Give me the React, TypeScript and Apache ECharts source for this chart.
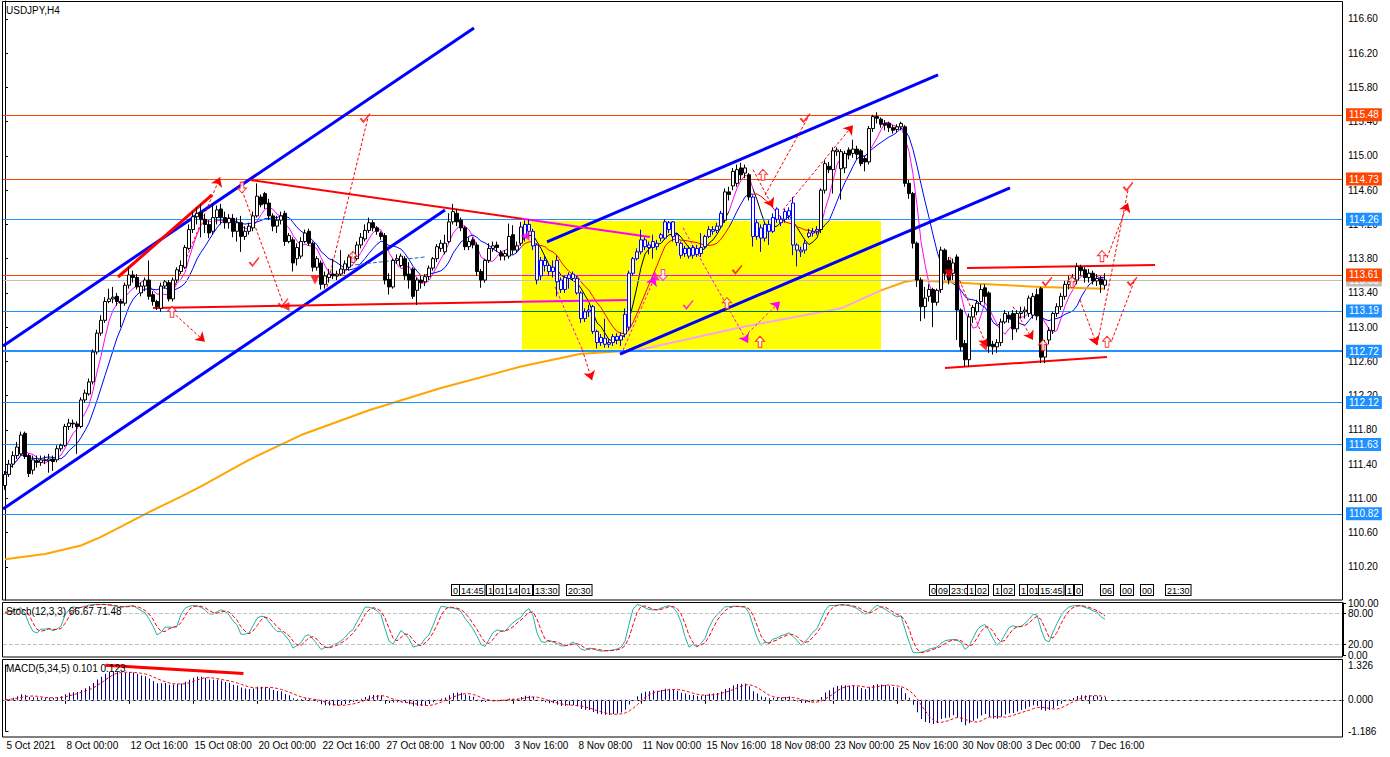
import React, { useEffect, useRef } from "react";
import * as echarts from "echarts";

// ---------- DATA ----------
// H4 candles [open, high, low, close]
const barsOct: number[][] = [
  [111.15,111.32,111.10,111.28],[111.28,111.45,111.25,111.40],[111.40,111.55,111.36,111.50],[111.50,111.66,111.46,111.60],
  [111.52,111.78,111.50,111.74],[111.76,111.78,111.46,111.49],[111.50,111.52,111.25,111.29],[111.33,111.50,111.28,111.45],
  [111.44,111.50,111.36,111.42],[111.42,111.50,111.38,111.45],[111.45,111.50,111.40,111.44],[111.44,111.52,111.30,111.46],
  [111.46,111.50,111.32,111.43],[111.45,111.62,111.42,111.58],[111.58,111.64,111.55,111.62],[111.62,111.87,111.60,111.84],
  [111.84,111.93,111.80,111.88],[111.88,111.92,111.82,111.87],[111.87,111.90,111.52,111.84],[111.84,112.18,111.82,112.15],
  [112.15,112.27,112.12,112.23],[112.22,112.40,112.20,112.36],[112.36,112.74,112.33,112.71],[112.71,112.97,112.68,112.93],
  [112.93,113.14,112.90,113.08],[113.08,113.35,113.05,113.30],[113.30,113.45,113.28,113.33],[113.33,113.47,113.28,113.35],
  [113.36,113.40,113.25,113.30],[113.30,113.33,113.00,113.28],[113.28,113.52,113.25,113.49],[113.49,113.70,113.45,113.61],
  [113.61,113.66,113.52,113.58],[113.58,113.62,113.44,113.47],[113.40,113.52,113.36,113.48],[113.48,113.58,113.42,113.55],
  [113.55,113.78,113.32,113.36],[113.38,113.42,113.25,113.30],[113.30,113.32,113.20,113.24],[113.22,113.52,113.18,113.48],
  [113.48,113.55,113.45,113.53],[113.52,113.55,113.30,113.33],[113.33,113.58,113.30,113.55],[113.55,113.70,113.52,113.67],
  [113.65,113.78,113.62,113.72],[113.70,113.96,113.68,113.93],[113.92,114.20,113.90,114.14],[114.14,114.35,114.10,114.29],
  [114.29,114.40,114.20,114.33],[114.34,114.44,114.05,114.26],[114.26,114.32,114.10,114.20],[114.20,114.25,114.04,114.10],
  [114.12,114.45,114.08,114.28],[114.28,114.42,114.20,114.37],[114.38,114.44,114.20,114.28],[114.28,114.35,114.15,114.22],
  [114.22,114.32,114.15,114.27],[114.27,114.32,114.05,114.12],[114.12,114.28,114.00,114.22],[114.22,114.30,113.88,114.06],
  [114.06,114.18,114.02,114.12],[114.12,114.22,114.08,114.18],[114.16,114.35,114.12,114.30],[114.30,114.68,114.28,114.53],
  [114.52,114.55,114.40,114.43],[114.56,114.58,114.38,114.44],[114.45,114.50,114.25,114.30],[114.30,114.33,114.12,114.18],
  [114.18,114.30,114.10,114.25],[114.25,114.35,114.20,114.30],[114.33,114.36,113.95,114.00],[114.00,114.10,113.98,114.07],
  [114.02,114.05,113.65,113.75],[113.80,113.98,113.72,113.93],[113.83,114.05,113.80,114.00],[114.00,114.14,113.98,114.10],
  [114.12,114.15,113.95,113.98],[113.98,114.00,113.65,113.70],[113.70,113.83,113.66,113.80],[113.75,113.78,113.44,113.50],
  [113.50,113.65,113.45,113.60],[113.58,113.68,113.52,113.62],[113.62,113.80,113.56,113.60],[113.60,113.66,113.55,113.62],
  [113.62,113.90,113.60,113.68],[113.67,113.78,113.62,113.74],[113.70,113.85,113.66,113.82],[113.82,113.88,113.75,113.80],
  [113.80,114.00,113.78,113.96],[113.96,114.10,113.92,114.05],[114.03,114.20,114.00,114.13],
];
const barsNov: number[][] = [
  [114.13,114.28,114.10,114.22],[114.22,114.25,114.12,114.16],[114.16,114.18,114.08,114.12],[114.10,114.12,114.02,114.06],
  [114.07,114.10,113.50,113.55],[113.56,113.63,113.38,113.47],[113.47,113.80,113.45,113.78],[113.78,113.85,113.74,113.80],
  [113.72,113.86,113.70,113.83],[113.80,113.83,113.55,113.60],[113.62,113.76,113.45,113.55],[113.68,113.70,113.33,113.36],
  [113.43,113.58,113.26,113.55],[113.55,113.60,113.45,113.52],[113.53,113.62,113.48,113.59],[113.59,113.72,113.55,113.69],
  [113.69,113.82,113.66,113.80],[113.80,113.97,113.76,113.94],[113.92,114.02,113.88,113.98],[113.88,114.08,113.85,113.98],
  [114.00,114.33,113.98,114.23],[114.23,114.44,114.20,114.35],[114.33,114.38,114.18,114.23],[114.25,114.28,114.12,114.16],
  [114.16,114.18,113.90,113.94],[113.94,114.05,113.90,114.00],[114.02,114.05,113.92,113.96],[113.96,113.99,113.60,113.65],
  [113.65,113.68,113.46,113.55],[113.55,113.80,113.52,113.78],[113.78,113.98,113.75,113.92],[113.92,114.00,113.88,113.95],
  [113.96,114.00,113.88,113.93],[113.87,113.90,113.78,113.83],[113.83,113.90,113.78,113.86],[113.83,114.21,113.80,114.06],
  [114.08,114.19,113.85,113.90],[113.90,114.00,113.87,113.95],[113.98,114.23,113.95,114.17],[114.05,114.25,114.00,114.20],
  [114.20,114.26,114.05,114.12],[114.12,114.15,113.90,113.95],[113.96,113.98,113.50,113.55],[113.60,113.82,113.55,113.78],
  [113.78,113.84,113.65,113.72],[113.72,113.75,113.60,113.65],[113.65,113.78,113.58,113.70],[113.78,113.84,113.36,113.53],
  [113.55,113.58,113.40,113.44],[113.44,113.60,113.40,113.58],[113.57,113.64,113.45,113.61],[113.62,113.65,113.54,113.57],
  [113.57,113.60,113.38,113.40],[113.40,113.42,113.05,113.10],[113.10,113.22,113.06,113.18],[113.18,113.26,113.12,113.20],
  [113.24,113.26,112.92,112.95],[112.95,112.97,112.75,112.82],[112.82,112.92,112.78,112.88],[112.87,113.10,112.76,112.80],
  [112.80,112.86,112.76,112.82],[112.82,112.92,112.78,112.89],[112.89,112.93,112.80,112.85],[112.85,112.94,112.78,112.90],
  [112.92,113.22,112.88,113.15],[113.00,113.66,112.96,113.63],[113.63,113.82,113.60,113.80],[113.80,113.92,113.78,113.88],
  [113.88,114.14,113.85,114.02],[114.02,114.05,113.90,113.94],[113.96,114.00,113.85,113.93],[113.93,114.08,113.80,114.00],
  [113.98,114.02,113.90,113.94],[114.04,114.10,114.00,114.08],[114.04,114.26,114.02,114.23],[114.22,114.24,114.10,114.14],
  [114.23,114.24,114.00,114.06],[114.08,114.10,113.95,113.99],[113.98,114.00,113.80,113.84],[113.86,113.95,113.82,113.92],
  [113.92,113.95,113.80,113.83],[113.84,113.96,113.80,113.93],[113.92,113.96,113.82,113.85],[113.86,114.10,113.82,113.93],
  [113.94,114.08,113.92,114.06],[114.06,114.18,114.04,114.14],[114.14,114.18,114.08,114.12],[114.13,114.22,114.10,114.18],
  [114.18,114.36,114.15,114.33],[114.25,114.62,114.22,114.58],[114.58,114.64,114.48,114.55],[114.65,114.86,114.60,114.82],
  [114.68,114.90,114.64,114.84],
];
const barsDec: number[][] = [
  [114.86,114.92,114.72,114.78],[114.80,114.90,114.74,114.86],[114.78,114.80,114.48,114.52],[114.52,114.54,113.94,114.06],
  [114.06,114.26,114.02,114.22],[114.16,114.20,113.88,114.04],[114.04,114.22,114.00,114.20],[114.20,114.25,113.96,114.12],
  [114.12,114.33,114.10,114.28],[114.38,114.40,114.22,114.26],[114.22,114.30,114.18,114.26],[114.26,114.38,114.22,114.35],
  [114.30,114.40,114.26,114.36],[114.45,114.52,113.84,113.96],[113.96,113.98,113.71,113.90],[113.90,113.94,113.82,113.88],
  [113.90,114.02,113.86,113.98],[114.06,114.15,114.04,114.10],[114.10,114.16,114.06,114.12],[114.12,114.18,114.08,114.14],
  [114.14,114.62,114.10,114.60],[114.60,114.95,114.56,114.91],[114.88,114.93,114.80,114.84],[114.84,115.10,114.56,115.06],
  [115.05,115.10,115.00,115.07],[114.85,115.08,114.49,115.05],[114.86,115.06,114.80,115.03],[115.07,115.10,114.96,115.01],
  [115.03,115.19,114.98,115.08],[115.08,115.12,114.96,115.02],[115.06,115.08,114.88,114.91],[114.97,115.00,114.82,114.93],
  [114.93,115.35,114.90,115.32],[115.32,115.48,115.28,115.46],[115.46,115.51,115.38,115.44],[115.43,115.45,115.33,115.37],
  [115.38,115.42,115.30,115.36],[115.38,115.40,115.28,115.33],[115.33,115.36,115.26,115.30],[115.31,115.37,115.28,115.34],
  [115.34,115.40,115.30,115.38],[115.34,115.36,114.64,114.68],[114.68,114.72,114.50,114.56],[114.56,114.58,113.92,113.98],
  [113.98,114.00,113.47,113.55],[113.55,113.58,113.07,113.24],[113.24,113.47,113.10,113.34],[113.36,113.50,113.30,113.44],
  [113.44,113.46,113.00,113.29],[113.29,113.45,113.25,113.43],[113.44,113.94,113.40,113.90],[113.90,113.92,113.55,113.63],
  [113.78,113.82,113.50,113.55],[113.63,113.80,113.55,113.75],[113.82,113.85,112.85,113.20],[113.20,113.22,112.72,112.77],
  [112.81,112.85,112.54,112.62],[112.62,113.16,112.54,113.12],[113.12,113.26,113.05,113.23],[113.18,113.32,113.14,113.28],
  [113.30,113.50,113.26,113.44],[113.46,113.50,113.28,113.36],[113.40,113.42,112.70,112.78],[112.80,112.84,112.68,112.77],
  [112.77,112.86,112.70,112.82],[112.82,113.10,112.78,113.06],[113.06,113.20,113.04,113.16],[113.14,113.18,113.05,113.10],
  [113.16,113.20,112.85,112.98],[112.98,113.20,112.94,113.16],[113.16,113.24,113.10,113.18],[113.18,113.24,113.10,113.20],
  [113.16,113.37,113.12,113.34],[113.14,113.40,113.10,113.36],[113.38,113.45,113.08,113.13],[113.45,113.47,112.58,112.65],
  [112.65,112.85,112.58,112.80],[112.85,113.00,112.80,112.96],[112.96,113.18,112.92,113.16],[113.16,113.28,113.12,113.24],
  [113.24,113.40,113.20,113.36],[113.36,113.54,113.32,113.50],[113.50,113.60,113.44,113.53],[113.53,113.62,113.48,113.57],
  [113.55,113.75,113.50,113.71],[113.70,113.73,113.60,113.66],[113.67,113.70,113.52,113.58],[113.58,113.68,113.52,113.63],
  [113.63,113.66,113.50,113.54],[113.54,113.62,113.48,113.57],[113.56,113.60,113.40,113.50],[113.49,113.63,113.44,113.55],
];

// slow MA (200): [bar index, price]
const ma200Points: number[][] = [
  [0,110.29],[10,110.35],[19,110.45],[24,110.55],[29,110.67],[36,110.84],[44,111.02],[49,111.14],[56,111.32],[61,111.45],
  [74,111.74],[91,112.03],[109,112.29],[129,112.54],[144,112.69],[158,112.73],[161,112.76],[184,113.0],[209,113.22],
  [219,113.43],[225,113.53],[228,113.55],[234,113.53],[242,113.51],[259,113.47],[275,113.45],
];

const timeLabels: [number, string][] = [
  [0,"5 Oct 2021"],[15,"8 Oct 00:00"],[31,"12 Oct 16:00"],[47,"15 Oct 08:00"],[63,"20 Oct 00:00"],[79,"22 Oct 16:00"],
  [95,"27 Oct 08:00"],[111,"1 Nov 00:00"],[127,"3 Nov 16:00"],[143,"8 Nov 08:00"],[159,"11 Nov 00:00"],[175,"15 Nov 16:00"],
  [191,"18 Nov 08:00"],[207,"23 Nov 00:00"],[223,"25 Nov 16:00"],[239,"30 Nov 08:00"],[255,"3 Dec 00:00"],[271,"7 Dec 16:00"],
];
const priceTicks = [110.2,110.6,111.0,111.4,111.8,112.2,112.6,113.0,113.4,113.8,114.2,114.6,115.0,115.4,115.8,116.2,116.6];
const stochTicks = [0, 20, 80, 100];
const macdTicks = [-1.186, 0, 1.326];

const redLevels = [115.48, 114.73, 113.61];
const blueLevels = [114.26, 113.19, 112.72, 112.12, 111.63, 110.82];
const askLevel = 113.55;

// yellow box [i1, top price, i2, bottom price]
const boxArea = [129.25, 114.24, 219, 112.74];

// trend lines [i1, p1, i2, p2]
const blueChannel: number[][] = [
  [-0.5,112.78,117.25,116.495],[-0.5,110.876,110,114.369],[135.5,113.995,233.25,115.946],[153.75,112.686,251.25,114.626],
];
const redTrend: number[][] = [
  [61.25,114.72,129.25,114.266],[37,113.224,129.25,113.296],[240.5,113.69,287.5,113.726],[235,112.523,275.5,112.651],
];
const magentaTrend: number[][] = [[129.25,114.266,161.25,114.053],[129.25,113.296,156.25,113.317]];
const redThick: number[][] = [[28.25,113.586,51.75,114.544]];
// dotted projections [i1, p1, i2, p2, arrow]
const dottedRed: number[][] = [
  [41.75,113.18,50,112.83,1],[42.5,113.49,53.75,114.75,1],[59.25,114.6,69.5,113.28,0],[80.5,113.47,90.75,115.45,0],
  [144.3,112.74,146.75,112.38,1],[187,114.84,192,114.4,1],[190,114.54,200.75,115.45,0],[194.5,114.37,212,115.36,1],
  [236.25,113.82,245.5,112.77,1],[252,113.24,257,112.85,1],[268.75,113.32,273,112.79,1],[273,112.79,280.75,114.6,0],
  [276.75,112.85,282.25,113.53,0],[275.5,113.81,280.75,114.45,1],
];
const dottedMagenta: number[][] = [
  [137.5,113.47,144.3,112.74,0],[154.5,112.73,162.5,113.59,1],[169.5,114.16,185.75,112.815,1],[185.75,112.93,193.75,113.3,1],
];
const upMarks: number[][] = [
  [41.75,113.18],[87,113.82],[189.5,114.78],[188.75,112.83],[180.5,113.28],[274.25,113.83],[275.5,112.83],[266.75,113.53],[259.5,112.79],
];
const downMarks: number[][] = [[59.25,114.63],[164.5,113.61]];
const checkMarks: number[][] = [
  [62.25,113.76],[69.5,113.28],[90,115.44],[200,115.44],[183,113.67],[280.75,114.64],[281.75,113.53],[260.5,113.53],
];
const checkMarksMagenta: number[][] = [[170.75,113.26]];
const triMarks: number[][] = [[70,113.24,90],[77.5,113.55,180],[245,112.77,200],[236,113.62,180]];
const triMarksMagenta: number[][] = [[130,114.065,90],[162.5,113.6,0]];
const macdTrend: number[][] = [[25,1.32,59.5,1.0]];

const objLabels1: [string, number][] = [["0",452],["14:45",460],["1",487],["01",494],["14",507],["01",520],["13:30",534],["20:30",567]];
const objLabels2: [string, number][] = [
  ["0",930],["09",937],["23:0",950],["1",968],["02",976],["1",994],["02",1002],["1",1020],["01",1028],["15:45",1039],
  ["1",1066],["0",1075],["06",1101],["00",1121],["00",1141],["21:30",1166],
];

const SLOTS = 335;
const FONT = "Liberation Sans";

export default function App() {
  const ref = useRef<HTMLDivElement>(null);
  useEffect(() => {
    const el = ref.current!;
    const chart = echarts.init(el, null, { renderer: "svg" });
    const bars = [...barsOct, ...barsNov, ...barsDec];
    const closes = bars.map((b) => b[3]);
    const cats = Array.from({ length: SLOTS }, (_, i) => String(i));

    const sma = (arr: number[], p: number) =>
      arr.map((_, i) => {
        const s = Math.max(0, i - p + 1);
        let sum = 0;
        for (let j = s; j <= i; j++) sum += arr[j];
        return +(sum / (i - s + 1)).toFixed(4);
      });
    const ma5 = sma(closes, 5);
    const ma10 = sma(closes, 10);

    // Stochastic 12,3,3
    const raw = bars.map((_, i) => {
      let hh = -Infinity, ll = Infinity;
      for (let j = Math.max(0, i - 11); j <= i; j++) {
        hh = Math.max(hh, bars[j][1]);
        ll = Math.min(ll, bars[j][2]);
      }
      return [closes[i] - ll, hh - ll];
    });
    const stK = raw.map((_, i) => {
      let a = 0, b = 0;
      for (let j = Math.max(0, i - 2); j <= i; j++) { a += raw[j][0]; b += raw[j][1]; }
      return b > 0 ? +(100 * a / b).toFixed(2) : 50;
    });
    const stD = sma(stK, 3);

    // MACD 5,34,5
    const ema = (p: number) => {
      const a = 2 / (p + 1);
      let e = closes[0];
      return closes.map((c) => (e = e + a * (c - e)));
    };
    const e5 = ema(5), e34 = ema(34);
    const macd = e5.map((v, i) => +(v - e34[i]).toFixed(4));
    const sig = sma(macd, 5);

    const inBox = (i: number) => (i >= 130 && i <= 179) || (i >= 187 && i <= 203);
    const candleData = bars.map(([o, h, l, c], i) =>
      inBox(i)
        ? { value: [o, c, l, h], itemStyle: { color: "#ffffff", color0: "#0000ff", borderColor: "#0000ff", borderColor0: "#0000ff" } }
        : [o, c, l, h]
    );

    const seg = (a: number[], color: string, width: number, type: any, arrow = false) => [
      { coord: [a[0], a[1]], symbol: "none", lineStyle: { color, width, type } },
      { coord: [a[2], a[3]], symbol: arrow ? "arrow" : "none", symbolSize: 9, lineStyle: { color, width, type } },
    ];

    const levelLine = (p: number, color: string, width = 1, text = true) => ({
      yAxis: p,
      lineStyle: { color, width, type: "solid" },
      label: text
        ? { show: true, position: "end", distance: 3, formatter: p.toFixed(2), color: "#fff", backgroundColor: color,
            padding: [2, 3, 1, 3], fontSize: 10, fontFamily: FONT }
        : { show: false },
    });

    const UP = "path://M5,0 L10,5 L7,5 L7,11 L3,11 L3,5 L0,5 Z";
    const DOWN = "path://M3,0 L7,0 L7,6 L10,6 L5,11 L0,6 L3,6 Z";
    const CHECK = "path://M0,6 L2,5 L4,8 L10,0 L11,1 L4,11 Z";
    const DOT: any = [3, 2];

    const labelMap = new Map<number, string>(timeLabels);
    const hideX = { show: false };

    const option: any = {
      animation: false,
      backgroundColor: "#ffffff",
      grid: [
        { left: 3, width: 1340, top: 1, height: 599 },
        { left: 3, width: 1340, top: 603, height: 52 },
        { left: 3.5, width: 1340, top: 665, height: 66 },
      ],
      xAxis: [
        { type: "category", gridIndex: 0, data: cats, boundaryGap: true, ...hideX },
        { type: "category", gridIndex: 1, data: cats, boundaryGap: true, ...hideX },
        {
          type: "category", gridIndex: 2, data: cats, boundaryGap: true, offset: 6,
          axisLine: { show: true, lineStyle: { color: "#000" } },
          axisTick: { show: true, alignWithLabel: true, length: 4, interval: (i: number) => labelMap.has(i), lineStyle: { color: "#000" } },
          axisLabel: {
            show: true, interval: (i: number) => labelMap.has(i), formatter: (_v: string, i: number) => labelMap.get(i) ?? "",
            align: "left", color: "#000", fontSize: 10, fontFamily: FONT, margin: 3, padding: [0, 0, 0, 1],
          },
          splitLine: { show: false },
        },
        { type: "value", gridIndex: 0, min: -0.5, max: SLOTS - 0.5, ...hideX },
        { type: "value", gridIndex: 2, min: -0.5, max: SLOTS - 0.5, ...hideX },
      ],
      yAxis: [
        {
          type: "value", gridIndex: 0, position: "right", min: 109.813, max: 116.81, scale: true,
          axisLine: { show: true, lineStyle: { color: "#000" } },
          axisTick: { show: true, length: 3, customValues: priceTicks, lineStyle: { color: "#000" } },
          axisLabel: { show: true, customValues: priceTicks, formatter: (v: number) => v.toFixed(2), color: "#000", fontSize: 10, fontFamily: FONT, margin: 5 },
          splitLine: { show: false },
        },
        {
          type: "value", gridIndex: 1, position: "right", min: 0, max: 100,
          axisLine: { show: true, lineStyle: { color: "#000" } },
          axisTick: { show: true, length: 3, customValues: stochTicks, lineStyle: { color: "#000" } },
          axisLabel: { show: true, customValues: stochTicks, formatter: (v: number) => v.toFixed(2), color: "#000", fontSize: 10, fontFamily: FONT, margin: 5 },
          splitLine: { show: false },
        },
        {
          type: "value", gridIndex: 2, position: "right", min: -1.186, max: 1.326, offset: -0.5,
          axisLine: { show: true, lineStyle: { color: "#000" } },
          axisTick: { show: true, length: 3, customValues: macdTicks, lineStyle: { color: "#000" } },
          axisLabel: { show: true, customValues: macdTicks, formatter: (v: number) => v.toFixed(3), color: "#000", fontSize: 10, fontFamily: FONT, margin: 5 },
          splitLine: { show: false },
        },
      ],
      visualMap: [
        {
          type: "piecewise", show: false, seriesIndex: 3, dimension: 0,
          pieces: [
            { lt: 129.25, color: "#ff00ff" }, { gte: 129.25, lt: 181, color: "#000000" }, { gte: 181, lt: 187, color: "#ff00ff" },
            { gte: 187, lt: 204, color: "#000000" }, { gte: 204, color: "#ff00ff" },
          ],
        },
        {
          type: "piecewise", show: false, seriesIndex: 4, dimension: 0,
          pieces: [
            { lt: 129.25, color: "#0000ff" }, { gte: 129.25, lt: 181, color: "#ff0000" }, { gte: 181, lt: 187, color: "#0000ff" },
            { gte: 187, lt: 204, color: "#ff0000" }, { gte: 204, color: "#0000ff" },
          ],
        },
        {
          type: "piecewise", show: false, seriesIndex: 5, dimension: 0,
          pieces: [{ lt: 156.25, color: "#ffa500" }, { gte: 156.25, lt: 219, color: "#f4a4f4" }, { gte: 219, color: "#ffa500" }],
        },
      ],
      series: [
        // 0 yellow box
        {
          type: "line", xAxisIndex: 3, yAxisIndex: 0, data: [[boxArea[0], boxArea[1]]], symbol: "none", silent: true, z: 1,
          markArea: { silent: true, itemStyle: { color: "#ffff00" }, data: [[{ coord: [boxArea[0], boxArea[1]] }, { coord: [boxArea[2], boxArea[3]] }]] },
        },
        // 1 horizontal levels
        {
          type: "line", xAxisIndex: 3, yAxisIndex: 0, data: [], symbol: "none", silent: true, z: 3,
          markLine: {
            silent: true, symbol: ["none", "none"], animation: false,
            data: [
              ...blueLevels.map((p) => levelLine(p, "#1e90ff", p === 112.72 ? 2 : 1)),
              levelLine(askLevel, "#c0c0c0"),
              ...redLevels.map((p) => levelLine(p, "#ff4500")),
              seg([boxArea[0], 113.61, boxArea[2], 113.61], "#ff00ff", 1, "solid"),
              seg([boxArea[0], 113.19, boxArea[2], 113.19], "#008000", 1, "solid"),
            ],
          },
        },
        // 2 candles
        {
          type: "candlestick", xAxisIndex: 0, yAxisIndex: 0, data: candleData, barWidth: 3, z: 5,
          itemStyle: { color: "#ffffff", color0: "#000000", borderColor: "#000000", borderColor0: "#000000", borderWidth: 1 },
        },
        // 3 fast MA
        { type: "line", xAxisIndex: 0, yAxisIndex: 0, data: ma5, symbol: "none", lineStyle: { width: 1 }, z: 4 },
        // 4 slower MA
        { type: "line", xAxisIndex: 0, yAxisIndex: 0, data: ma10, symbol: "none", lineStyle: { width: 1 }, z: 4 },
        // 5 MA200
        { type: "line", xAxisIndex: 3, yAxisIndex: 0, data: ma200Points, symbol: "none", smooth: false, lineStyle: { width: 2 }, z: 4 },
        // 6 trend lines
        {
          type: "line", xAxisIndex: 3, yAxisIndex: 0, data: [], symbol: "none", silent: true, z: 6,
          markLine: {
            silent: true, symbol: ["none", "none"], label: { show: false },
            data: [
              ...blueChannel.map((a) => seg(a, "#0000ff", 3, "solid")),
              ...redTrend.map((a) => seg(a, "#ff0000", 2, "solid")),
              ...magentaTrend.map((a) => seg(a, "#ff00ff", 2, "solid")),
              ...redThick.map((a) => seg(a, "#ff0000", 3, "solid")),
              ...dottedRed.map((a) => seg(a, "#ff0000", 1, DOT, a[4] === 1)),
              ...dottedMagenta.map((a) => seg(a, "#ff00ff", 1, DOT, a[4] === 1)),
              [{ coord: [86, 113.72], symbol: "none", lineStyle: { color: "#1e64c8", width: 1, type: "dashed" } },
               { coord: [105, 113.82], symbol: "none", lineStyle: { color: "#1e64c8", width: 1, type: "dashed" } }],
            ],
          },
        },
        // 7 markers
        {
          type: "scatter", xAxisIndex: 3, yAxisIndex: 0, silent: true, z: 7,
          data: [
            ...upMarks.map((m) => ({ value: m, symbol: UP, symbolSize: [9, 11], itemStyle: { color: "#ffffff", borderColor: "#ff0000", borderWidth: 1 } })),
            ...downMarks.map((m) => ({ value: m, symbol: DOWN, symbolSize: [9, 11], itemStyle: { color: "#ffffff", borderColor: m[0] > 150 ? "#ff00ff" : "#ff0000", borderWidth: 1 } })),
            ...checkMarks.map((m) => ({ value: m, symbol: CHECK, symbolSize: [11, 10], itemStyle: { color: "#ff0000" } })),
            ...checkMarksMagenta.map((m) => ({ value: m, symbol: CHECK, symbolSize: [11, 10], itemStyle: { color: "#ff00ff" } })),
            ...triMarks.map((m) => ({ value: [m[0], m[1]], symbol: "triangle", symbolSize: 9, symbolRotate: m[2], itemStyle: { color: "#ff0000" } })),
            ...triMarksMagenta.map((m) => ({ value: [m[0], m[1]], symbol: "triangle", symbolSize: 9, symbolRotate: m[2], itemStyle: { color: "#ff00ff" } })),
          ],
        },
        // 8 stoch main
        {
          type: "line", xAxisIndex: 1, yAxisIndex: 1, data: stK, symbol: "none", lineStyle: { color: "#20b2aa", width: 1 }, z: 4,
          markLine: {
            silent: true, symbol: ["none", "none"], label: { show: false },
            data: [{ yAxis: 80 }, { yAxis: 20 }], lineStyle: { color: "#c0c0c0", type: "dashed", width: 1 },
          },
        },
        // 9 stoch signal
        { type: "line", xAxisIndex: 1, yAxisIndex: 1, data: stD, symbol: "none", lineStyle: { color: "#ff0000", width: 1, type: "dashed" }, z: 5 },
        // 10 macd histogram
        {
          type: "bar", xAxisIndex: 2, yAxisIndex: 2, data: macd, barWidth: 1, itemStyle: { color: "#000080" }, z: 3,
          markLine: {
            silent: true, symbol: ["none", "none"], label: { show: false },
            data: [{ yAxis: 0 }], lineStyle: { color: "#c0c0c0", type: "dashed", width: 1 },
          },
        },
        // 11 macd signal
        { type: "line", xAxisIndex: 2, yAxisIndex: 2, data: sig, symbol: "none", lineStyle: { color: "#ff0000", width: 1, type: DOT }, z: 5 },
        // 12 macd trend
        {
          type: "line", xAxisIndex: 4, yAxisIndex: 2, data: [], symbol: "none", silent: true, z: 6, clip: false,
          markLine: { silent: true, symbol: ["none", "none"], label: { show: false }, data: macdTrend.map((a) => seg(a, "#ff0000", 3, "solid")) },
        },
      ],
      graphic: [
        { type: "rect", silent: true, z: 100, shape: { x: 2.5, y: 1.5, width: 1340, height: 598.5 }, style: { fill: "none", stroke: "#000", lineWidth: 1 } },
        { type: "rect", silent: true, z: 100, shape: { x: 2.5, y: 602.5, width: 1340, height: 54.5 }, style: { fill: "none", stroke: "#000", lineWidth: 1 } },
        { type: "rect", silent: true, z: 100, shape: { x: 2.5, y: 659.5, width: 1340, height: 77.5 }, style: { fill: "none", stroke: "#000", lineWidth: 1 } },
        { type: "text", silent: true, z: 100, style: { x: 6, y: 5, text: "USDJPY,H4", fill: "#000", font: `10px "${FONT}"` } },
        { type: "text", silent: true, z: 100, style: { x: 6, y: 606, text: "Stoch(12,3,3) 66.67 71.48", fill: "#000", font: `10px "${FONT}"` } },
        { type: "text", silent: true, z: 100, style: { x: 6, y: 663, text: "MACD(5,34,5) 0.101 0.123", fill: "#000", font: `10px "${FONT}"` } },
        ...[...objLabels1, ...objLabels2].map(([t, x]) => ({
          type: "text", silent: true, z: 100,
          style: { x, y: 585, text: t, fill: "#000", font: `9px "${FONT}"`, backgroundColor: "#fff", borderColor: "#000", borderWidth: 1, padding: [1, 1, 0, 1] },
        })),
      ],
    };
    chart.setOption(option);
    return () => chart.dispose();
  }, []);
  return <div ref={ref} style={{ position: "fixed", left: 0, top: 0, width: 1390, height: 757, background: "#fff" }} />;
}
